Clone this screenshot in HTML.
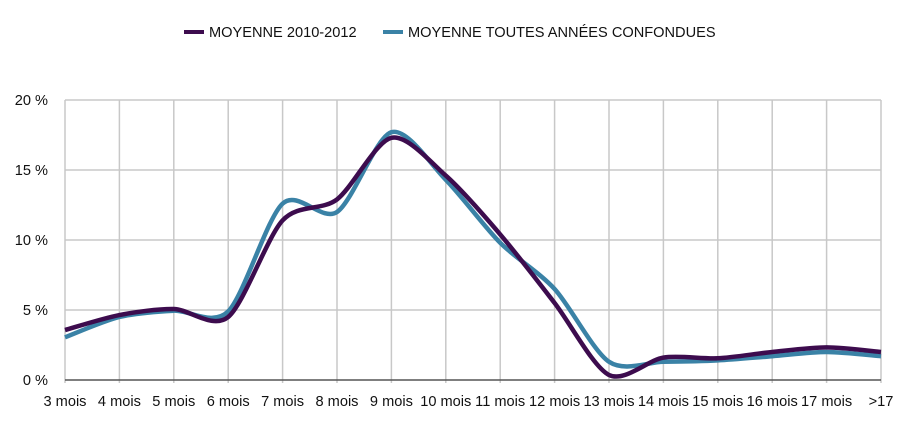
<!DOCTYPE html>
<html><head><meta charset="utf-8"><style>
body{margin:0;background:#fff;font-family:"Liberation Sans",Arial,sans-serif;}
svg text{font-family:"Liberation Sans",Arial,sans-serif;fill:#111;}
</style></head><body>
<svg id="chart" width="907" height="420">
<g id="legend">
<g><line x1="184" y1="32" x2="204" y2="32" stroke="#3d0c4e" stroke-width="4"/><text x="209" y="37" font-size="14.6">MOYENNE 2010-2012</text></g>
<g><line x1="383" y1="32" x2="403" y2="32" stroke="#3a82a6" stroke-width="4"/><text x="408" y="37" font-size="14.6">MOYENNE TOUTES ANNÉES CONFONDUES</text></g>
</g>
<g id="grid"></g>
<g id="axes"></g>
<g id="series"></g>
</svg>
<script>
const categories=["3 mois","4 mois","5 mois","6 mois","7 mois","8 mois","9 mois","10 mois","11 mois","12 mois","13 mois","14 mois","15 mois","16 mois","17 mois",">17"];
const series2010=[3.57,4.64,5.07,4.5,11.4,12.9,17.3,14.6,10.4,5.5,0.36,1.6,1.55,2.0,2.33,2.0];
const seriesAll=[3.05,4.5,4.95,4.9,12.6,12.0,17.7,14.3,9.8,6.5,1.3,1.3,1.4,1.7,2.0,1.7];
const yTicks=[0,5,10,15,20];
const yTickLabels=["0 %","5 %","10 %","15 %","20 %"];
const NS="http://www.w3.org/2000/svg";
const X0=65,X1=881,Y0=380,Y1=100;
function xs(i){return X0+(X1-X0)*i/(categories.length-1);}
function ys(v){return Y0-(Y0-Y1)*v/20;}
function mk(t,a,p){const e=document.createElementNS(NS,t);for(const k in a)e.setAttribute(k,a[k]);p.appendChild(e);return e;}
const grid=document.getElementById('grid'),axes=document.getElementById('axes'),ser=document.getElementById('series');
yTicks.forEach((v,i)=>{
  if(v>0){const l=mk('line',{x1:X0,x2:X1,y1:ys(v),y2:ys(v),stroke:'#c8c8c8','stroke-width':1.5},grid);
  
  }
  const t=mk('text',{x:48,y:ys(v)+5,'text-anchor':'end','font-size':14.6},axes);t.textContent=yTickLabels[i];
  
  
});
categories.forEach((c,i)=>{
  const l=mk('line',{x1:xs(i),x2:xs(i),y1:Y1,y2:Y0+3,stroke:'#c8c8c8','stroke-width':1.5},grid);
  
  
  const t=mk('text',{x:xs(i),y:406,'text-anchor':'middle','font-size':14.6},axes);t.textContent=c;
  
  
});
const ax=mk('line',{x1:X0,x2:X1,y1:Y0,y2:Y0,stroke:'#555','stroke-width':1.5},axes);


function path(vals){
  const p=vals.map((v,i)=>[xs(i),ys(v)]);let d='M'+p[0][0]+','+p[0][1];
  for(let i=0;i<p.length-1;i++){const a=p[Math.max(0,i-1)],b=p[i],c=p[i+1],e=p[Math.min(p.length-1,i+2)];
    const t=7;d+=' C'+(b[0]+(c[0]-a[0])/t)+','+(b[1]+(c[1]-a[1])/t)+' '+(c[0]-(e[0]-b[0])/t)+','+(c[1]-(e[1]-b[1])/t)+' '+c[0]+','+c[1];}
  return d;}
const pa=mk('path',{d:path(seriesAll),fill:'none',stroke:'#3a82a6','stroke-width':4.5,'stroke-linejoin':'round'},ser);


const pb=mk('path',{d:path(series2010),fill:'none',stroke:'#3d0c4e','stroke-width':4.5,'stroke-linejoin':'round'},ser);


</script>
</body></html>
